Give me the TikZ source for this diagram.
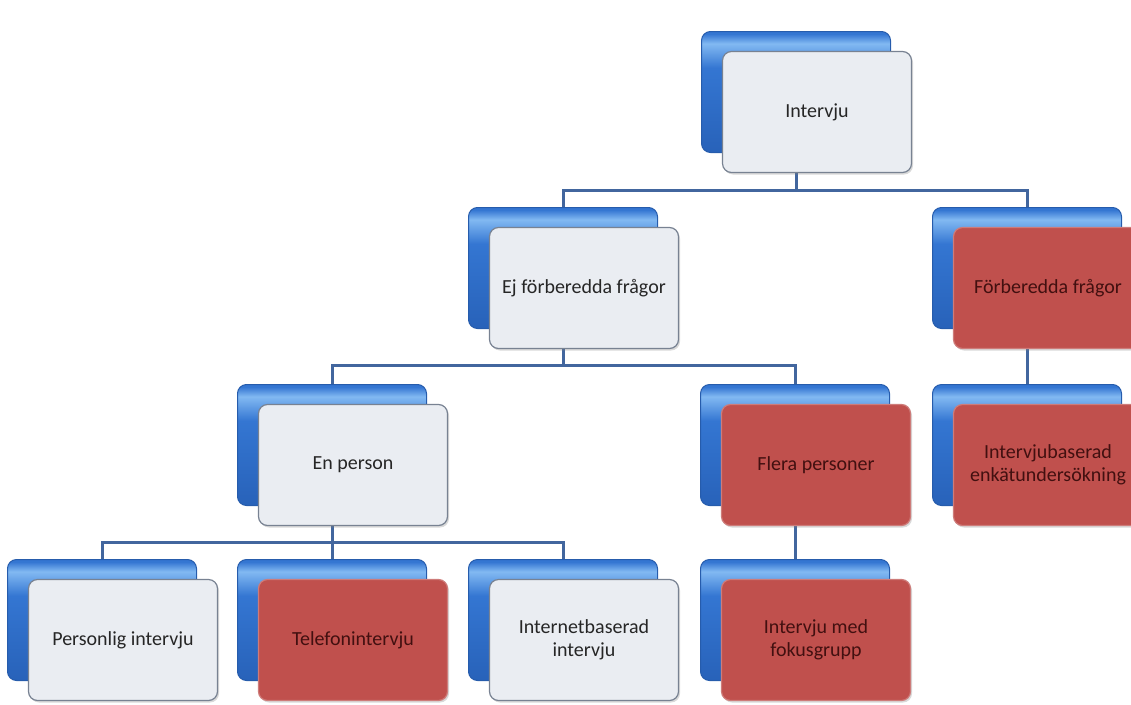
\documentclass[tikz,border=0pt]{standalone}
\usepackage{fontspec}
\setmainfont{Carlito}
\usetikzlibrary{backgrounds,shadows}
\definecolor{boxblue}{RGB}{52,118,210}
\definecolor{boxbluedark}{RGB}{40,98,185}
\definecolor{boxbluetop}{RGB}{130,185,242}
\definecolor{boxblueedge}{RGB}{38,92,172}
\definecolor{boxgrey}{RGB}{234,237,242}
\definecolor{boxgreyedge}{RGB}{120,130,146}
\definecolor{boxred}{RGB}{192,80,77}
\definecolor{boxrededge}{RGB}{206,124,122}
\definecolor{redtext}{RGB}{66,16,16}
\definecolor{linkblue}{RGB}{66,102,158}
\pgfdeclareverticalshading{bluebox}{100bp}{color(0bp)=(boxbluedark); color(25bp)=(boxbluedark);
  color(60bp)=(boxblue); color(70bp)=(boxbluetop); color(74bp)=(boxblue); color(100bp)=(boxblue)}
\begin{document}
\begin{tikzpicture}[x=1pt,y=-1pt,
  back/.style={rectangle,rounded corners=9pt,minimum width=189pt,minimum height=121pt,
    draw=boxblueedge,line width=1pt,shading=bluebox},
  front/.style={rectangle,rounded corners=9pt,minimum width=189pt,minimum height=121pt,
    draw=boxgreyedge,line width=1.2pt,fill=boxgrey,align=center,text=black!85,
    font=\fontsize{20}{23}\selectfont,
    drop shadow={shadow xshift=1.5pt,shadow yshift=-2pt,opacity=.3}},
  redfront/.style={front,fill=boxred,draw=boxrededge,text=redtext},
  link/.style={draw=linkblue,line width=3pt}]
\useasboundingbox (0,0) rectangle (1131,704);
\clip (0,0) rectangle (1131,704);
% level 0
\node[back] (ivb) at (796,92) {};
\node[front] (iv) at ([shift={(21,20)}]ivb.center) {Intervju};
% level 1
\node[back] (ejb) at (563,268) {};
\node[front] (ej) at ([shift={(21,20)}]ejb.center) {Ej förberedda frågor};
\node[back] (fb) at (1027,268) {};
\node[redfront] (f) at ([shift={(21,20)}]fb.center) {Förberedda frågor};
% level 2
\node[back] (epb) at (332,445) {};
\node[front] (ep) at ([shift={(21,20)}]epb.center) {En person};
\node[back] (flb) at (795,445) {};
\node[redfront] (fl) at ([shift={(21,20)}]flb.center) {Flera personer};
\node[back] (ibb) at (1027,445) {};
\node[redfront] (ib) at ([shift={(21,20)}]ibb.center) {Intervjubaserad\\enkätundersökning};
% level 3
\node[back] (pib) at (102,620) {};
\node[front] (pi) at ([shift={(21,20)}]pib.center) {Personlig intervju};
\node[back] (tib) at (332,620) {};
\node[redfront] (ti) at ([shift={(21,20)}]tib.center) {Telefonintervju};
\node[back] (inb) at (563,620) {};
\node[front] (in) at ([shift={(21,20)}]inb.center) {Internetbaserad\\intervju};
\node[back] (imb) at (795,620) {};
\node[redfront] (im) at ([shift={(21,20)}]imb.center) {Intervju med\\fokusgrupp};
\begin{scope}[on background layer]
\draw[link] (ejb.north) -- ++(0,-17) -| (ivb.south);
\draw[link] (fb.north) -- ++(0,-17) -| (ivb.south);
\draw[link] (epb.north) -- ++(0,-19) -| (ejb.south);
\draw[link] (flb.north) -- ++(0,-19) -| (ejb.south);
\draw[link] (fb.south) -- (ibb.north);
\draw[link] (pib.north) -- ++(0,-17) -| (epb.south);
\draw[link] (tib.north) -- ++(0,-17) -| (epb.south);
\draw[link] (inb.north) -- ++(0,-17) -| (epb.south);
\draw[link] (flb.south) -- (imb.north);
\end{scope}
\end{tikzpicture}
\end{document}
